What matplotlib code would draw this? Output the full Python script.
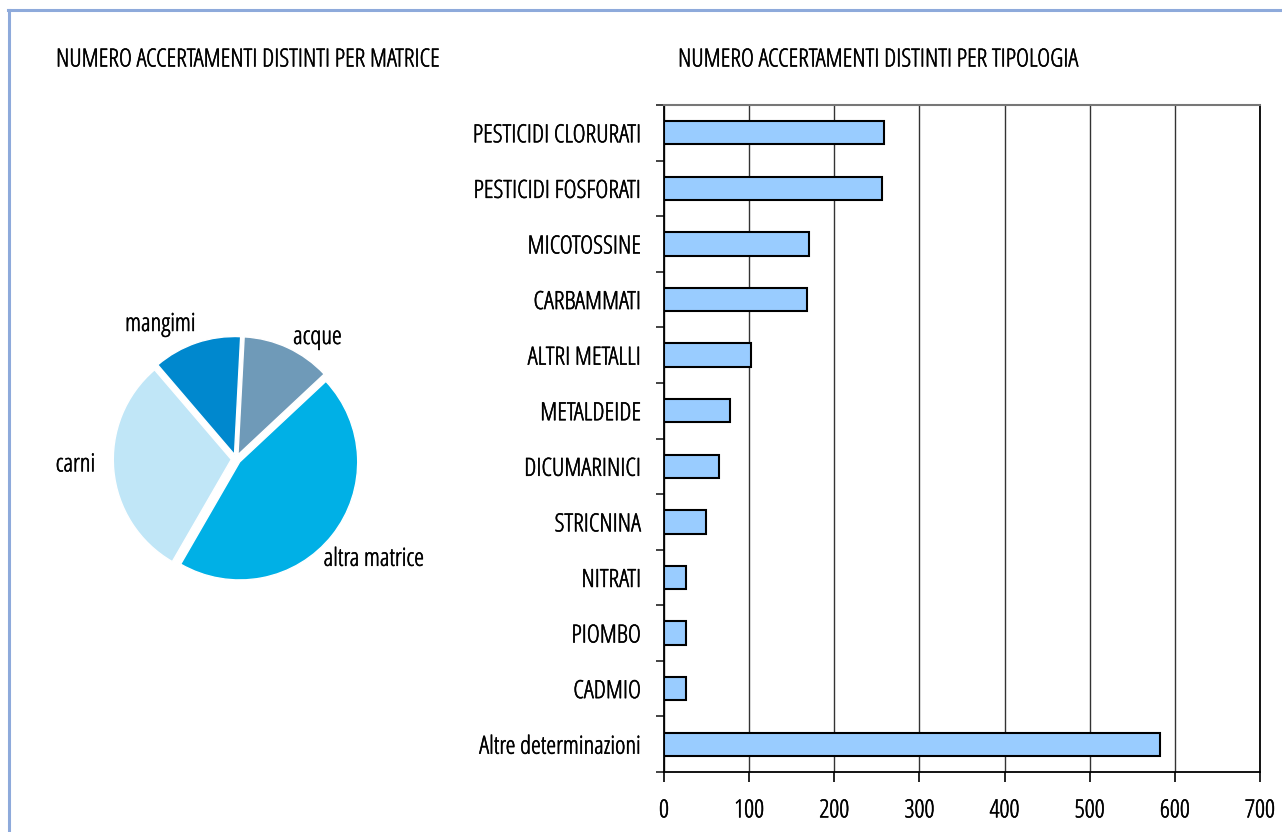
import matplotlib
matplotlib.use("Agg")
import matplotlib.pyplot as plt
import matplotlib.patheffects as pe
from matplotlib.lines import Line2D
import numpy as np

# ---------------- data ----------------
pie_labels = ["acque", "altra matrice", "carni", "mangimi"]
pie_values = [12.2, 45.3, 30.4, 12.1]
pie_colors = ["#6F9AB8", "#00B0E6", "#C0E6F7", "#0088CE"]

categories = ["PESTICIDI CLORURATI", "PESTICIDI FOSFORATI", "MICOTOSSINE",
              "CARBAMMATI", "ALTRI METALLI", "METALDEIDE", "DICUMARINICI",
              "STRICNINA", "NITRATI", "PIOMBO", "CADMIO", "Altre determinazioni"]
counts = [258, 256, 170, 168, 102, 77, 65, 49, 26, 26, 26, 582]
x_ticks = [0, 100, 200, 300, 400, 500, 600, 700]

title_left = "NUMERO ACCERTAMENTI DISTINTI PER MATRICE"
title_right = "NUMERO ACCERTAMENTI DISTINTI PER TIPOLOGIA"

# ---------------- fonts ----------------
plt.rcParams['font.family'] = ["Open Sans", "DejaVu Sans"]
plt.rcParams['font.stretch'] = "condensed"
FS = 18
STROKE = [pe.withStroke(linewidth=0.4, foreground="black")]
TXT = dict(fontsize=FS, stretch="condensed", color="black", path_effects=STROKE)

W, H = 1282, 832
fig = plt.figure(figsize=(W / 100, H / 100), dpi=100)

# frame border (top + left)
bc = "#8EAADB"
fig.add_artist(Line2D([8.5 / W, 8.5 / W], [0, 1 - 9.5 / H], color=bc, lw=2.2,
                      transform=fig.transFigure))
fig.add_artist(Line2D([7.5 / W, 1], [1 - 9.5 / H, 1 - 9.5 / H], color=bc, lw=2.2,
                      transform=fig.transFigure))

# titles
fig.text(56 / W, 1 - 60 / H, title_left, ha="left", va="center", **TXT)
fig.text(678 / W, 1 - 60 / H, title_right, ha="left", va="center", **TXT)

# ---------------- pie ----------------
unit = 118.0
half = 1.6
cx, cy = 236, 459
pw = 2 * half * unit
axp = fig.add_axes([(cx - pw / 2) / W, (H - cy - pw / 2) / H, pw / W, pw / H])
wedges, texts = axp.pie(pie_values, labels=pie_labels, colors=pie_colors,
                        startangle=87, counterclock=False,
                        explode=[0.04] * len(pie_values),
                        wedgeprops=dict(edgecolor="white", linewidth=1.0),
                        textprops=TXT)
label_pos = {"acque": (0.69, 1.03), "altra matrice": (1.17, -0.85),
             "carni": (-1.36, -0.05), "mangimi": (-0.64, 1.14)}
for t in texts:
    t.set_position(label_pos[t.get_text()])
    t.set_ha("center")
    t.set_va("center")
axp.set_xlim(-half, half)
axp.set_ylim(-half, half)
axp.set_aspect("equal")
axp.axis("off")

# ---------------- bars ----------------
left, right, top, bottom = 664, 1260, 105, 772
ax = fig.add_axes([left / W, 1 - bottom / H, (right - left) / W, (bottom - top) / H])
y = np.arange(len(categories))
ax.barh(y, counts, height=0.42, color="#99CCFF", edgecolor="black", linewidth=1.5,
        zorder=3)
ax.set_xlim(0, 700)
ax.set_ylim(len(categories) - 0.5, -0.5)
ax.set_xticks(x_ticks)
ax.set_xticklabels([str(v) for v in x_ticks], **TXT)
ax.set_yticks(np.arange(len(categories) + 1) - 0.5)
ax.set_yticklabels([])
ax.set_yticks(y, minor=True)
ax.set_yticklabels(categories, minor=True, **TXT)
ax.tick_params(axis="y", which="major", length=6, width=1.2, color="#222222",
               direction="out")
ax.tick_params(axis="y", which="minor", length=0, pad=16.5)
ax.tick_params(axis="x", length=7, width=1.2, direction="out", pad=12)
ax.xaxis.grid(True, color="#333333", linewidth=1.0, zorder=0)
ax.set_axisbelow(True)
for s in ["left", "bottom", "right"]:
    ax.spines[s].set_color("black")
    ax.spines[s].set_linewidth(1.3)
ax.spines["top"].set_color("#777777")
ax.spines["top"].set_linewidth(1.5)

fig.savefig("out.png", dpi=100)
